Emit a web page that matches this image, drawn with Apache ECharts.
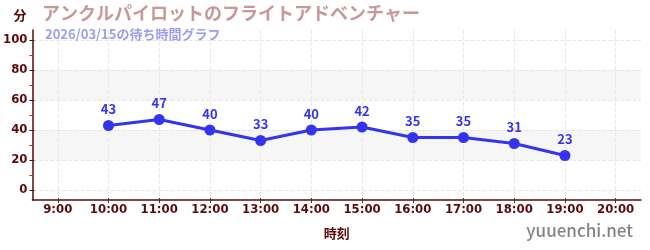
<!DOCTYPE html>
<html><head><meta charset="utf-8">
<script src="https://cdn.jsdelivr.net/npm/echarts@6/dist/echarts.min.js"></script>
<style>html,body{margin:0;padding:0;background:#fff}#c{width:650px;height:250px}</style>
</head><body><div id="c"></div>
<script>
const categories = ['9:00','10:00','11:00','12:00','13:00','14:00','15:00','16:00','17:00','18:00','19:00','20:00'];
const waitTimes = [null,43,47,40,33,40,42,35,35,31,23,null];
const yMajorTicks = [0,20,40,60,80,100];
const yMinorTicks = [10,30,50,70,90];
const titleText = 'アンクルパイロットのフライトアドベンチャー';
const subtitleText = '2026/03/15の待ち時間グラフ';
const yName = '分';
const xName = '時刻';
const watermark = 'yuuenchi.net';

const FONT = '"Noto Sans CJK JP", "Noto Sans", sans-serif';
const NARROW = '"Liberation Sans Narrow", "DejaVu Sans Condensed", sans-serif';
const DARK = '#5a0a0a';
const yMin = -20/3, yMax = 320/3;
const catIdx = categories.map((c, i) => i);

const chart = echarts.init(document.getElementById('c'), null, {renderer: 'canvas'});
chart.setOption({
  animation: false,
  textStyle: {fontFamily: FONT},
  title: [
    {text: titleText, left: 37, top: -1, textStyle: {fontFamily: FONT, fontSize: 18, fontWeight: 'bold', color: '#c89898'}},
    {text: subtitleText, left: 40, top: 23, textStyle: {fontFamily: FONT, fontSize: 13, fontWeight: 'bold', color: '#9c9cf0'}},
    {text: watermark, right: 12, bottom: 6, textStyle: {fontFamily: FONT, fontSize: 17, fontWeight: 500, color: '#858585'}}
  ],
  grid: {left: 31, right: 9, top: 30, bottom: 50, containLabel: false},
  xAxis: [
    {
      type: 'category', data: categories, boundaryGap: true,
      name: xName, nameLocation: 'middle', nameGap: 27,
      nameTextStyle: {color: DARK, fontSize: 13, fontWeight: 'bold', fontFamily: FONT},
      axisLine: {show: true, onZero: false, lineStyle: {color: DARK, width: 1.5}},
      axisTick: {show: true, alignWithLabel: true, length: 3, lineStyle: {color: '#333'}},
      axisLabel: {color: DARK, fontSize: 13, fontWeight: 'bold', margin: 3, fontFamily: NARROW, interval: 0},
      splitLine: {show: false}
    },
    {
      type: 'value', min: -0.5, max: categories.length - 0.5, position: 'bottom',
      axisLine: {show: false, onZero: false},
      axisTick: {show: true, inside: true, length: 2, customValues: catIdx, lineStyle: {color: '#333'}},
      axisLabel: {show: false, customValues: catIdx},
      splitLine: {show: true, lineStyle: {color: '#e8e8e8', type: 'dashed', width: 1}}
    }
  ],
  yAxis: [
    {
      type: 'value', min: yMin, max: yMax,
      name: yName, nameLocation: 'end', nameGap: 8,
      nameTextStyle: {color: DARK, fontSize: 13, fontWeight: 'bold', fontFamily: FONT, align: 'right', padding: [0, 6, 0, 0]},
      axisLine: {show: true, onZero: false, lineStyle: {color: DARK, width: 1.5}},
      axisTick: {show: true, length: 3, customValues: yMajorTicks, lineStyle: {color: '#222'}},
      axisLabel: {color: DARK, fontSize: 13, fontWeight: 'bold', margin: 5, customValues: yMajorTicks, fontFamily: NARROW},
      splitLine: {show: true, lineStyle: {color: '#e6e6e6', type: 'dashed', width: 1}},
      splitArea: {show: true, areaStyle: {color: ['rgba(255,255,255,0)', '#f6f6f6']}}
    },
    {
      type: 'value', min: yMin, max: yMax, position: 'left',
      axisLine: {show: false, onZero: false},
      axisTick: {show: true, inside: true, length: 2, customValues: yMajorTicks, lineStyle: {color: '#222'}},
      axisLabel: {show: false, customValues: yMajorTicks},
      splitLine: {show: false}
    },
    {
      type: 'value', min: yMin, max: yMax, position: 'left',
      axisLine: {show: false, onZero: false},
      axisTick: {show: true, length: 3, customValues: yMinorTicks, lineStyle: {color: '#e02020'}},
      axisLabel: {show: false, customValues: yMinorTicks},
      splitLine: {show: false}
    }
  ],
  series: [{
    type: 'line', data: waitTimes, xAxisIndex: 0, yAxisIndex: 0,
    symbol: 'circle', symbolSize: 11, connectNulls: false,
    lineStyle: {color: '#3434f0', width: 3},
    itemStyle: {color: '#3434f0'},
    label: {show: true, position: 'top', distance: 4, color: '#3434f0', fontSize: 13, fontWeight: 'bold', fontFamily: FONT}
  }]
});
</script>
</body></html>
